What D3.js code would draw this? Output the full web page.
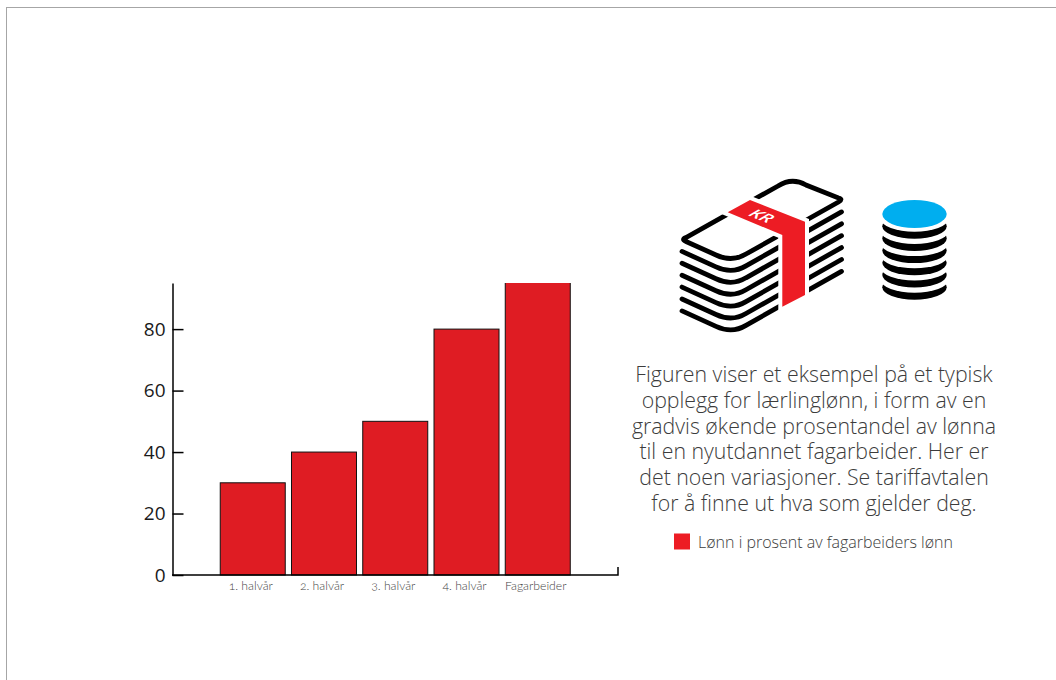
<!DOCTYPE html>
<html lang="no">
<head>
<meta charset="utf-8">
<script src="https://cdnjs.cloudflare.com/ajax/libs/d3/7.8.5/d3.min.js"></script>
<style>
html,body{margin:0;padding:0;background:#fff;overflow:hidden}
svg{display:block}
</style>
</head>
<body>
<svg id="chart" width="1056" height="680" xmlns="http://www.w3.org/2000/svg"></svg>
<script>
const categories = ["1. halvår", "2. halvår", "3. halvår", "4. halvår", "Fagarbeider"];
const values = [30, 40, 50, 80, 100];
const yTicks = [0, 20, 40, 60, 80];
const yTop = 95;
const bodyLines = [
  "Figuren viser et eksempel på et typisk",
  "opplegg for lærlinglønn, i form av en",
  "gradvis økende prosentandel av lønna",
  "til en nyutdannet fagarbeider. Her er",
  "det noen variasjoner. Se tariffavtalen",
  "for å finne ut hva som gjelder deg."
];
const legendLabel = "Lønn i prosent av fagarbeiders lønn";

const svg = d3.select("#chart");

// frame
svg.append("rect").attr("x", 6.5).attr("y", 7.5).attr("width", 1200).attr("height", 800)
  .attr("fill", "none").attr("stroke", "#a6a6a6").attr("stroke-width", 1);

// scales
const x = d3.scaleBand().domain(categories).range([172.5, 618])
  .paddingInner(0.0877).paddingOuter(0.67);
const y = d3.scaleLinear().domain([0, yTop]).range([575, 283]);

// bars are cut off at the top of the axis
svg.append("clipPath").attr("id", "plot").append("rect")
  .attr("x", 172).attr("y", y(yTop)).attr("width", 450).attr("height", y(0) - y(yTop) + 2);

svg.append("g").attr("clip-path", "url(#plot)")
  .selectAll("rect").data(values).join("rect")
  .attr("x", (d, i) => x(categories[i]))
  .attr("y", d => y(d))
  .attr("width", x.bandwidth())
  .attr("height", d => y(0) - y(d))
  .attr("fill", "#df1c23")
  .attr("stroke", "#111")
  .attr("stroke-width", 1);

// y axis
const yAxis = svg.append("g").attr("transform", "translate(172.5,0)")
  .call(d3.axisLeft(y).tickValues(yTicks).tickFormat(d3.format("d"))
    .tickSizeInner(-11).tickSizeOuter(0).tickPadding(7));
yAxis.select(".domain").attr("stroke", "#000").attr("stroke-width", 1.5);
yAxis.selectAll(".tick line").attr("stroke", "#000").attr("stroke-width", 1.5);
yAxis.selectAll(".tick text")
  .attr("font-family", "'Open Sans', sans-serif").attr("font-size", 19).attr("fill", "#1a1a1a");

// x axis
const xAxis = svg.append("g").attr("transform", "translate(0,575)")
  .call(d3.axisBottom(x).tickSize(0).tickPadding(6));
xAxis.select(".domain").attr("stroke", "#000").attr("stroke-width", 1.5)
  .attr("d", "M172,0H618V-8");
xAxis.selectAll(".tick text")
  .attr("dx", -2)
  .attr("font-family", "Lato, sans-serif").attr("font-weight", 300).attr("font-size", 12.2).attr("fill", "#444")
  .style("font-feature-settings", "'onum' 1");

// money stack icon
const icon = svg.append("g");
const dy = 11.9;
const P = { L:[682,239.5], B:[732,261.5], R:[841.5,200], T:[792,178] };
function lowerLayer(k) {
  const o = k * dy;
  return `M${P.L[0]},${P.L[1]+o} L${P.B[0]-16},${P.B[1]-6.5+o} Q${P.B[0]},${P.B[1]+o+1} ${P.B[0]+14},${P.B[1]-7.5+o} L${P.R[0]},${P.R[1]+o}`;
}
d3.range(1, 7).forEach(k => icon.append("path").attr("d", lowerLayer(k))
  .attr("fill", "none").attr("stroke", "#000").attr("stroke-width", 4.8).attr("stroke-linecap", "round"));
icon.append("path")
  .attr("d", `M${P.L[0]+4},${P.L[1]-2} Q${P.L[0]-1},${P.L[1]} ${P.L[0]+4},${P.L[1]+2}
    L${P.B[0]-16},${P.B[1]-6.5} Q${P.B[0]},${P.B[1]+1} ${P.B[0]+14},${P.B[1]-7.5}
    L${P.R[0]-3},${P.R[1]+2} Q${P.R[0]+2},${P.R[1]-1} ${P.R[0]-3},${P.R[1]-2}
    L${P.T[0]+14},${P.T[1]+7} Q${P.T[0]},${P.T[1]-1} ${P.T[0]-14},${P.T[1]+8} Z`)
  .attr("fill", "#fff").attr("stroke", "#000").attr("stroke-width", 4.8);
icon.append("polygon")
  .attr("points", "750,200 805,221.7 805,295 782.3,306.7 782.3,235 727.7,212.3")
  .attr("fill", "#ed1c24").attr("stroke", "#fff").attr("stroke-width", 8)
  .attr("stroke-linejoin", "miter").attr("paint-order", "stroke");
icon.append("text").text("KR")
  .attr("transform", "matrix(0.93,0.37,-0.85,0.5,762,216)")
  .attr("text-anchor", "middle").attr("dy", "0.36em")
  .attr("font-family", "'Open Sans', sans-serif").attr("font-weight", 600)
  .attr("font-size", 17).attr("fill", "#fff");

// coin stack icon
const coins = svg.append("g");
d3.range(6, 0, -1).forEach(k => {
  const cy = 214 + k * 12.2;
  coins.append("ellipse").attr("cx", 914.5).attr("cy", cy).attr("rx", 32.2).attr("ry", 12.5).attr("fill", "#000");
  coins.append("ellipse").attr("cx", 914.5).attr("cy", cy - 7).attr("rx", 33.5).attr("ry", 12.5).attr("fill", "#fff");
});
coins.append("ellipse").attr("cx", 914.5).attr("cy", 214).attr("rx", 32.2).attr("ry", 14).attr("fill", "#00aeef");

// caption
svg.append("g").selectAll("text").data(bodyLines).join("text")
  .attr("x", 814).attr("y", (d, i) => 382 + i * 25.8)
  .attr("text-anchor", "middle")
  .attr("font-family", "'Open Sans', sans-serif").attr("font-weight", 300)
  .attr("font-size", 21.3).attr("fill", "#3c3c3c").text(d => d);

// legend
svg.append("rect").attr("x", 674).attr("y", 533.5).attr("width", 16).attr("height", 16).attr("fill", "#ed1c24");
svg.append("text").attr("x", 698).attr("y", 547.5)
  .attr("font-family", "'Open Sans', sans-serif").attr("font-weight", 300)
  .attr("font-size", 16).attr("fill", "#3c3c3c").text(legendLabel);
</script>
</body>
</html>
